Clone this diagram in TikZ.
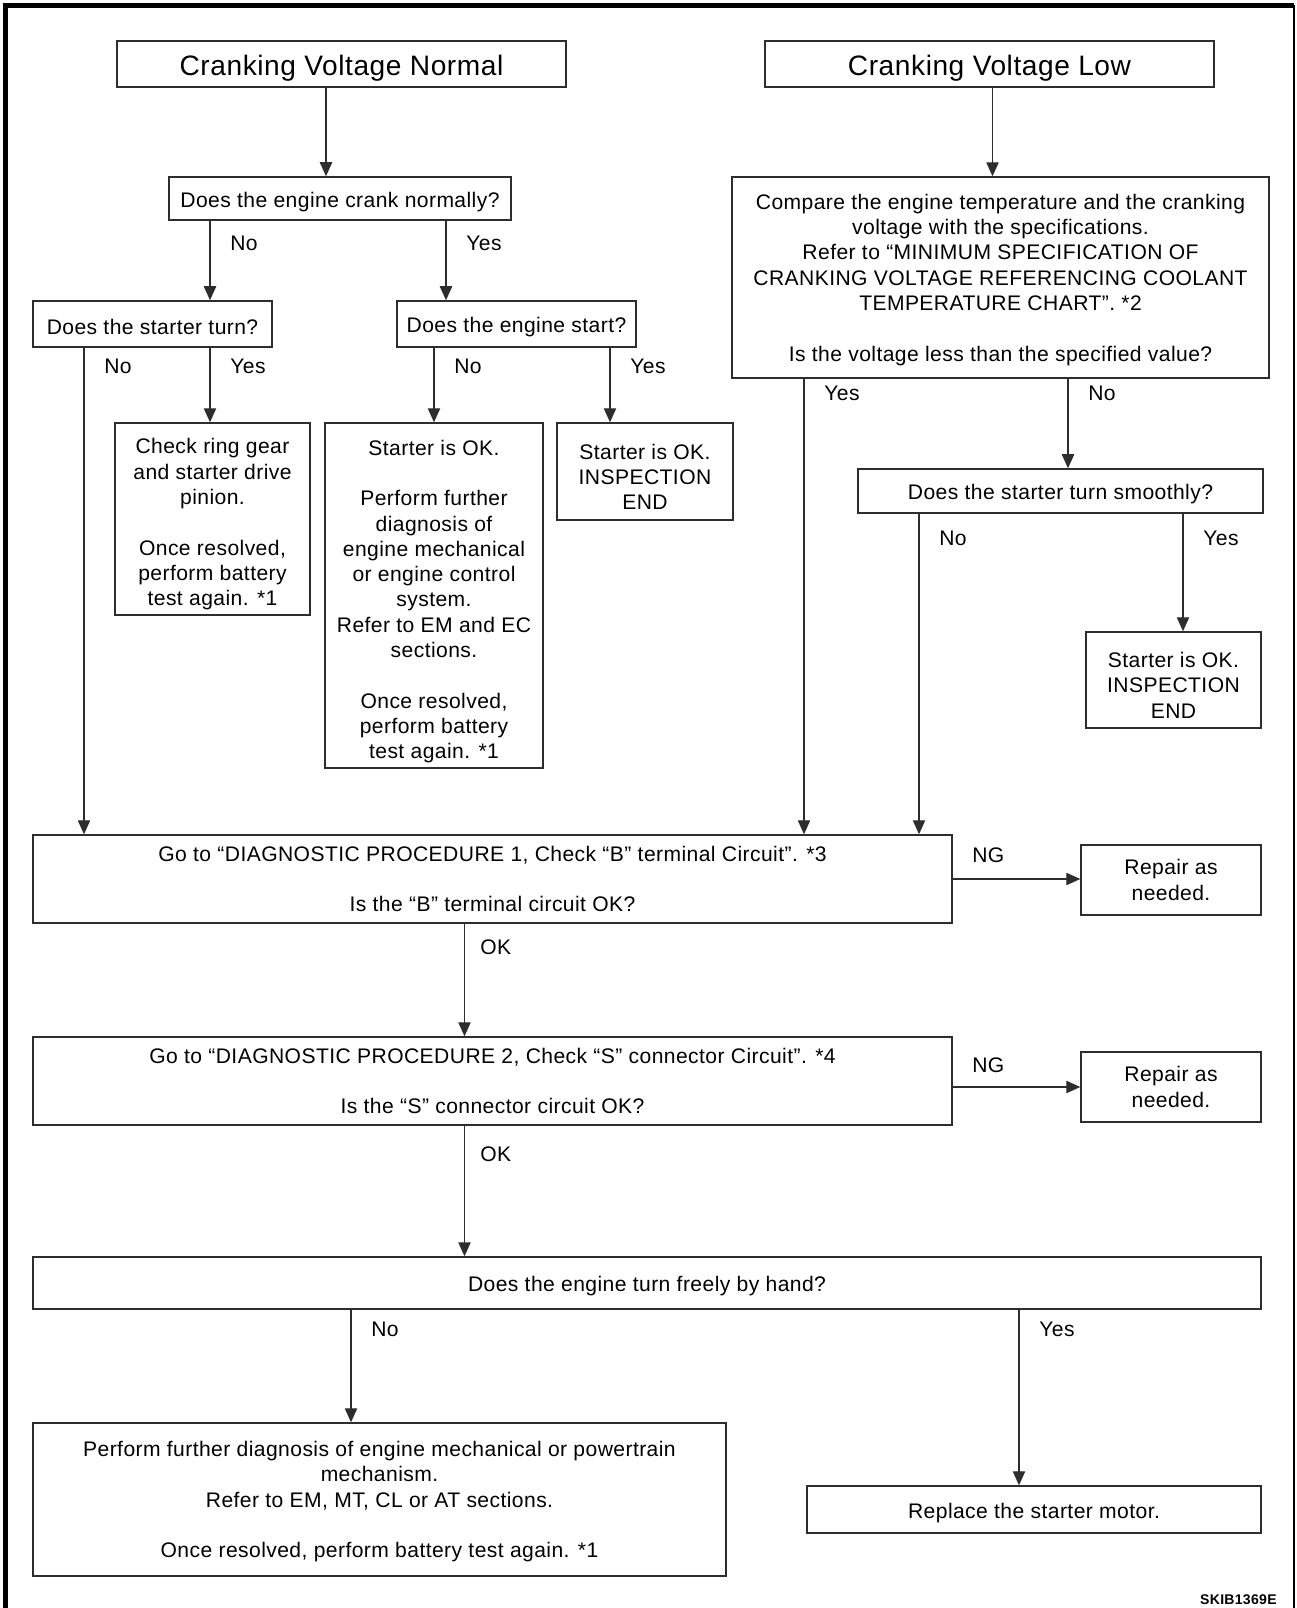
\documentclass[tikz,border=0pt]{standalone}
\usepackage{fontspec}
\setmainfont{Liberation Sans}[LetterSpace=2.0]
\usepackage{tikz}
\usetikzlibrary{arrows.meta, positioning, calc}
\definecolor{boxline}{RGB}{45, 45, 45}
\newcommand{\liftby}[1]{\rule{0pt}{#1}}
\tikzstyle{box} = [rectangle, draw=boxline, line width=0.8pt, inner sep=0pt, align=center, font=\fontsize{12}{14.4}\selectfont, execute at begin node={\rule{0pt}{12.2pt}}]
\tikzstyle{title} = [box, font=\fontsize{16}{19}\selectfont, execute at begin node={\rule{0pt}{16pt}}]
\tikzstyle{arrow} = [line width=0.8pt, draw=boxline, -{Triangle[length=8pt, width=7pt]}]
\tikzstyle{lbl} = [anchor=west, inner sep=0pt, font=\fontsize{12}{14.4}\selectfont]

\begin{document}
\begin{tikzpicture}[x=0.02cm, y=-0.02cm]
    \useasboundingbox (0, 0) rectangle (1297, 1608);
    % Frame
    \draw[line width=2.8pt] (5.5, 1608) -- (5.5, 5.5) -- (1294, 5.5);
    \draw[line width=1pt] (1294, 5.5) -- (1294, 1608);

    % Start boxes
    \node[title, minimum width=8.98cm, minimum height=0.92cm] (normal) at (341.5, 64) {Cranking Voltage Normal};
    \node[title, minimum width=8.98cm, minimum height=0.92cm] (low) at (989.5, 64) {Cranking Voltage Low};

    % Normal branch
    \node[box, minimum width=6.84cm, minimum height=0.86cm] (crank) at (340, 198.5) {Does the engine crank normally?};
    \node[box, minimum width=4.78cm, minimum height=0.92cm] (turn) at (152.5, 324) {Does the starter turn?};
    \node[box, minimum width=4.78cm, minimum height=0.92cm] (start) at (516.5, 324) {Does the engine start?};
    \node[box, minimum width=3.9cm, minimum height=3.84cm] (ring) at (212.5, 519) {\liftby{14.7pt}Check ring gear\\and starter drive\\pinion.\\[\baselineskip]Once resolved,\\perform battery\\test again. *1};
    \node[box, minimum width=4.36cm, minimum height=6.9cm] (further) at (434, 595.5) {\liftby{15.5pt}Starter is OK.\\[\baselineskip]Perform further\\diagnosis of\\engine mechanical\\or engine control\\system.\\Refer to EM and EC\\sections.\\[\baselineskip]Once resolved,\\perform battery\\test again. *1};
    \node[box, minimum width=3.52cm, minimum height=1.94cm] (endA) at (645, 471.5) {\liftby{14.7pt}Starter is OK.\\INSPECTION\\END};

    % Low branch
    \node[box, minimum width=10.74cm, minimum height=4.02cm] (compare) at (1000.5, 277.5) {\liftby{11.2pt}Compare the engine temperature and the cranking\\voltage with the specifications.\\Refer to “MINIMUM SPECIFICATION OF\\CRANKING VOLTAGE REFERENCING COOLANT\\TEMPERATURE CHART”. *2\\[\baselineskip]Is the voltage less than the specified value?};
    \node[box, minimum width=8.1cm, minimum height=0.88cm] (smooth) at (1060.5, 491) {Does the starter turn smoothly?};
    \node[box, minimum width=3.5cm, minimum height=1.92cm] (endB) at (1173.5, 680) {\liftby{14.7pt}Starter is OK.\\INSPECTION\\END};

    % Diagnostic procedures
    \node[box, minimum width=18.38cm, minimum height=1.76cm] (diagB) at (492.5, 879) {Go to “DIAGNOSTIC PROCEDURE 1, Check “B” terminal Circuit”. *3\\[\baselineskip]Is the “B” terminal circuit OK?};
    \node[box, minimum width=3.6cm, minimum height=1.4cm] (repairB) at (1171, 880) {Repair as\\needed.};
    \node[box, minimum width=18.38cm, minimum height=1.76cm] (diagS) at (492.5, 1081) {Go to “DIAGNOSTIC PROCEDURE 2, Check “S” connector Circuit”. *4\\[\baselineskip]Is the “S” connector circuit OK?};
    \node[box, minimum width=3.6cm, minimum height=1.4cm] (repairS) at (1171, 1087) {Repair as\\needed.};
    \node[box, minimum width=24.56cm, minimum height=1.04cm] (hand) at (647, 1283) {Does the engine turn freely by hand?};
    \node[box, minimum width=13.86cm, minimum height=3.06cm] (power) at (379.5, 1499.5) {\liftby{11.2pt}Perform further diagnosis of engine mechanical or powertrain\\mechanism.\\Refer to EM, MT, CL or AT sections.\\[\baselineskip]Once resolved, perform battery test again. *1};
    \node[box, minimum width=9.08cm, minimum height=0.94cm] (replace) at (1034, 1509.5) {Replace the starter motor.};

    % Columns of the connectors
    \coordinate (cA) at (326, 0);
    \coordinate (cB) at (992.5, 0);
    \coordinate (cC) at (210, 0);
    \coordinate (cD) at (446, 0);
    \coordinate (cE) at (84, 0);
    \coordinate (cF) at (434, 0);
    \coordinate (cG) at (610, 0);
    \coordinate (cH) at (804, 0);
    \coordinate (cI) at (1068, 0);
    \coordinate (cJ) at (919, 0);
    \coordinate (cK) at (1183, 0);
    \coordinate (cL) at (464.5, 0);
    \coordinate (cM) at (351, 0);
    \coordinate (cN) at (1019, 0);

    % Connectors
    \draw[arrow] (normal.south -| cA) -- (crank.north -| cA);
    \draw[arrow] (low.south -| cB) -- (compare.north -| cB);
    \draw[arrow] (crank.south -| cC) -- (turn.north -| cC);
    \draw[arrow] (crank.south -| cD) -- (start.north -| cD);
    \draw[arrow] (turn.south -| cE) -- (diagB.north -| cE);
    \draw[arrow] (turn.south -| cC) -- (ring.north -| cC);
    \draw[arrow] (start.south -| cF) -- (further.north -| cF);
    \draw[arrow] (start.south -| cG) -- (endA.north -| cG);
    \draw[arrow] (compare.south -| cH) -- (diagB.north -| cH);
    \draw[arrow] (compare.south -| cI) -- (smooth.north -| cI);
    \draw[arrow] (smooth.south -| cJ) -- (diagB.north -| cJ);
    \draw[arrow] (smooth.south -| cK) -- (endB.north -| cK);
    \draw[arrow] (diagB.east) -- (repairB.west |- diagB.east);
    \draw[arrow] (diagB.south -| cL) -- (diagS.north -| cL);
    \draw[arrow] (diagS.east |- repairS.west) -- (repairS.west);
    \draw[arrow] (diagS.south -| cL) -- (hand.north -| cL);
    \draw[arrow] (hand.south -| cM) -- (power.north -| cM);
    \draw[arrow] (hand.south -| cN) -- (replace.north -| cN);

    % Connector labels
    \node[lbl] (noA) at (230, 243) {No};
    \node[lbl] (yesA) at (466, 243) {Yes};
    \node[lbl] (noB) at (104, 366) {No};
    \node[lbl] (yesB) at (230, 366) {Yes};
    \node[lbl] (noC) at (454, 366) {No};
    \node[lbl] (yesC) at (630, 366) {Yes};
    \node[lbl] (yesD) at (824, 393) {Yes};
    \node[lbl] (noD) at (1088, 393) {No};
    \node[lbl] (noE) at (939, 538) {No};
    \node[lbl] (yesE) at (1203, 538) {Yes};
    \node[lbl] (ngB) at (972, 855) {NG};
    \node[lbl] (okB) at (480, 947) {OK};
    \node[lbl] (ngS) at (972, 1065) {NG};
    \node[lbl] (okS) at (480, 1154) {OK};
    \node[lbl] (noF) at (371, 1329) {No};
    \node[lbl] (yesF) at (1039, 1329) {Yes};

    % Figure code
    \node[anchor=east, inner sep=0pt, font=\fontsize{8}{9}\selectfont\bfseries] (code) at (1277, 1600) {SKIB1369E};
\end{tikzpicture}
\end{document}
